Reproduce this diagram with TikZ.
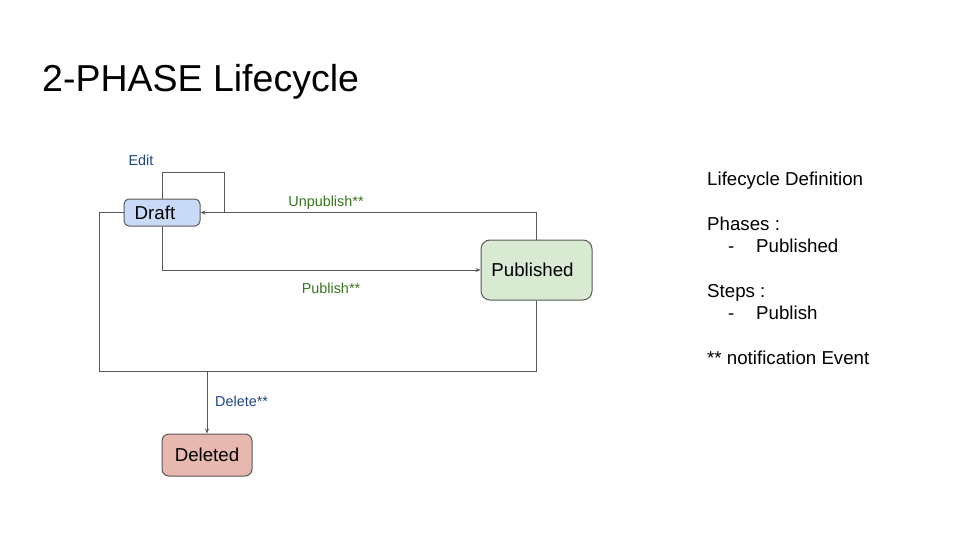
\documentclass[tikz,border=0pt]{standalone}
\usepackage{fontspec}
\setmainfont{Liberation Sans}
\usetikzlibrary{arrows.meta}

\definecolor{linegray}{HTML}{595959}
\definecolor{draftblue}{HTML}{C9DAF8}
\definecolor{pubgreen}{HTML}{D9EAD3}
\definecolor{delred}{HTML}{E6B8AF}
\definecolor{labelblue}{HTML}{1C4587}
\definecolor{labelgreen}{HTML}{38761D}

\begin{document}
\begin{tikzpicture}[x=1pt,y=-1pt,
  state/.style={draw=linegray,line width=1pt,inner sep=0pt,font=\fontsize{18.7}{22}\selectfont},
  flow/.style={draw=linegray,line width=1pt},
  flowarrow/.style={flow,-{Stealth[length=5pt,width=4pt]}},
  bluelabel/.style={text=labelblue,font=\fontsize{14.4}{17}\selectfont,inner sep=0pt},
  greenlabel/.style={text=labelgreen,font=\fontsize{14.4}{17}\selectfont,inner sep=0pt},
  deftext/.style={anchor=base west,inner sep=0pt,font=\fontsize{18.7}{22}\selectfont}]
\useasboundingbox[fill=white] (0,0) rectangle (960,540);

% title
\node[anchor=base west,inner sep=0pt,font=\fontsize{37.5}{44}\selectfont] (title) at (42,92) {2-PHASE Lifecycle};

% states
\node[state,fill=draftblue,rounded corners=5pt,minimum width=76pt,minimum height=27pt] (draft) at (162,212.5) {Draft\kern14pt};
\node[state,fill=pubgreen,rounded corners=9pt,minimum width=111pt,minimum height=60pt] (published) at (536.5,270) {Published\kern8pt};
\node[state,fill=delred,rounded corners=7pt,minimum width=90pt,minimum height=42pt] (deleted) at (207,455) {Deleted};

% helper points
\coordinate (editturn) at (224,173);
\coordinate (editend) at (224,212.5);
\coordinate (dleft) at (99,371);
\coordinate (joint) at (207,371);

% transitions
\draw[flow] (draft.north) |- (editturn) -- (editend);
\draw[flowarrow] (published.north) |- (draft.east);
\draw[flowarrow] (draft.south) |- (published.west);
\draw[flow] (draft.west) -| (dleft) -- (joint);
\draw[flow] (published.south) |- (joint);
\draw[flowarrow] (joint) -- (deleted.north);

% labels
\node[bluelabel] (editlbl) at (141,160) {Edit};
\node[greenlabel] (unpublbl) at (326,203) {Unpublish**};
\node[greenlabel] (publbl) at (331,288) {Publish**};
\node[bluelabel,anchor=west] (dellbl) at (215,401) {Delete**};

% definition text
\node[deftext] (defhead) at (707,185.5) {Lifecycle Definition};
\node[deftext] (phases) at (707,230.5) {Phases :};
\node[deftext] (phdash) at (728,252) {-};
\node[deftext] (phitem) at (756,252) {Published};
\node[deftext] (steps) at (707,297) {Steps :};
\node[deftext] (stdash) at (728,319) {-};
\node[deftext] (stitem) at (756,319) {Publish};
\node[deftext] (note) at (707,364) {** notification Event};
\end{tikzpicture}
\end{document}
